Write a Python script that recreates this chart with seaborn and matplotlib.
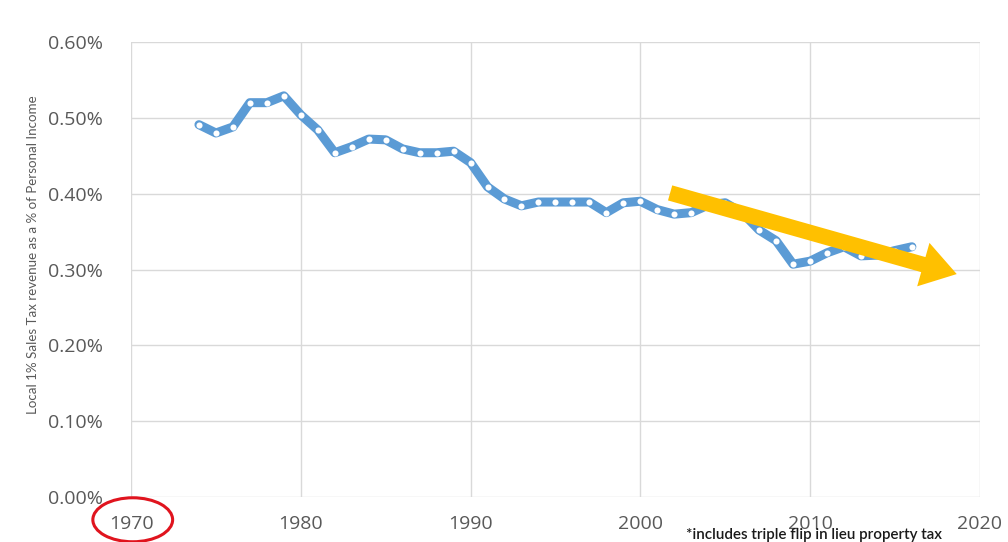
import numpy as np
import pandas as pd
import seaborn as sns
import matplotlib.pyplot as plt
from matplotlib.patches import Ellipse
from matplotlib.ticker import FuncFormatter

years = list(range(1974, 2017))
share_pct = [0.491, 0.480, 0.488, 0.520, 0.520, 0.529, 0.504, 0.484, 0.454, 0.462,
             0.472, 0.471, 0.459, 0.454, 0.454, 0.456, 0.441, 0.409, 0.393, 0.384,
             0.389, 0.389, 0.389, 0.389, 0.375, 0.388, 0.390, 0.379, 0.373, 0.375,
             0.385, 0.388, 0.375, 0.352, 0.338, 0.307, 0.311, 0.322, 0.330, 0.318,
             0.319, 0.325, 0.330]
trend_years = [2001.6, 2018.8]
trend_pct = [0.402, 0.293]

df = pd.DataFrame({'Year': years, 'Share': share_pct})

sns.set_style('white')
fig = plt.figure(figsize=(10.08, 5.42), dpi=100)
ax = fig.add_axes([0.130, 0.083, 0.842, 0.8395])

sns.lineplot(x='Year', y='Share', data=df, ax=ax, color='#5B9BD5', linewidth=6.5,
             marker='o', markersize=4.4, markerfacecolor='white', markeredgewidth=0,
             solid_joinstyle='round', zorder=3)

# trend arrow
ax.annotate('', xy=(trend_years[1], trend_pct[1]), xytext=(trend_years[0], trend_pct[0]),
            arrowprops=dict(arrowstyle='simple,head_length=1.0,head_width=1.3,tail_width=0.45',
                            color='#FFC000', lw=0, mutation_scale=25),
            zorder=4)

ax.set_xlim(1970, 2020)
ax.set_ylim(0, 0.6)
ax.set_xticks(range(1970, 2021, 10))
ax.set_yticks(np.arange(0, 0.61, 0.1))
ax.yaxis.set_major_formatter(FuncFormatter(lambda v, p: f'{v:.2f}%'))
ax.grid(True, color='#D9D9D9', linewidth=1)
for s in ax.spines.values():
    s.set_visible(False)
ax.tick_params(axis='both', length=0, labelsize=14, labelcolor='#595959')
ax.tick_params(axis='x', pad=13)
ax.tick_params(axis='y', pad=20)
for lbl in ax.get_xticklabels() + ax.get_yticklabels():
    lbl.set_fontfamily(['Open Sans', 'DejaVu Sans'])
ax.set_xlabel('')
ax.set_ylabel('Local 1% Sales Tax revenue as a % of Personal Income', fontsize=9.6,
              color='#595959', family=['Lato', 'DejaVu Sans'])
ax.yaxis.set_label_coords(-0.108, 0.532)

# red circle round 1970
ax.add_patch(Ellipse((1970.1, -0.030), 4.7, 0.058, fill=False, edgecolor='#E0141E',
                     linewidth=2.2, clip_on=False, transform=ax.transData))

fig.text(0.681, 0.0005, '*includes triple flip in lieu property tax', fontsize=10.9,
         color='#1a1a1a', weight='semibold', va='bottom', family=['Lato', 'DejaVu Sans'])

plt.savefig('out.png', dpi=100)
